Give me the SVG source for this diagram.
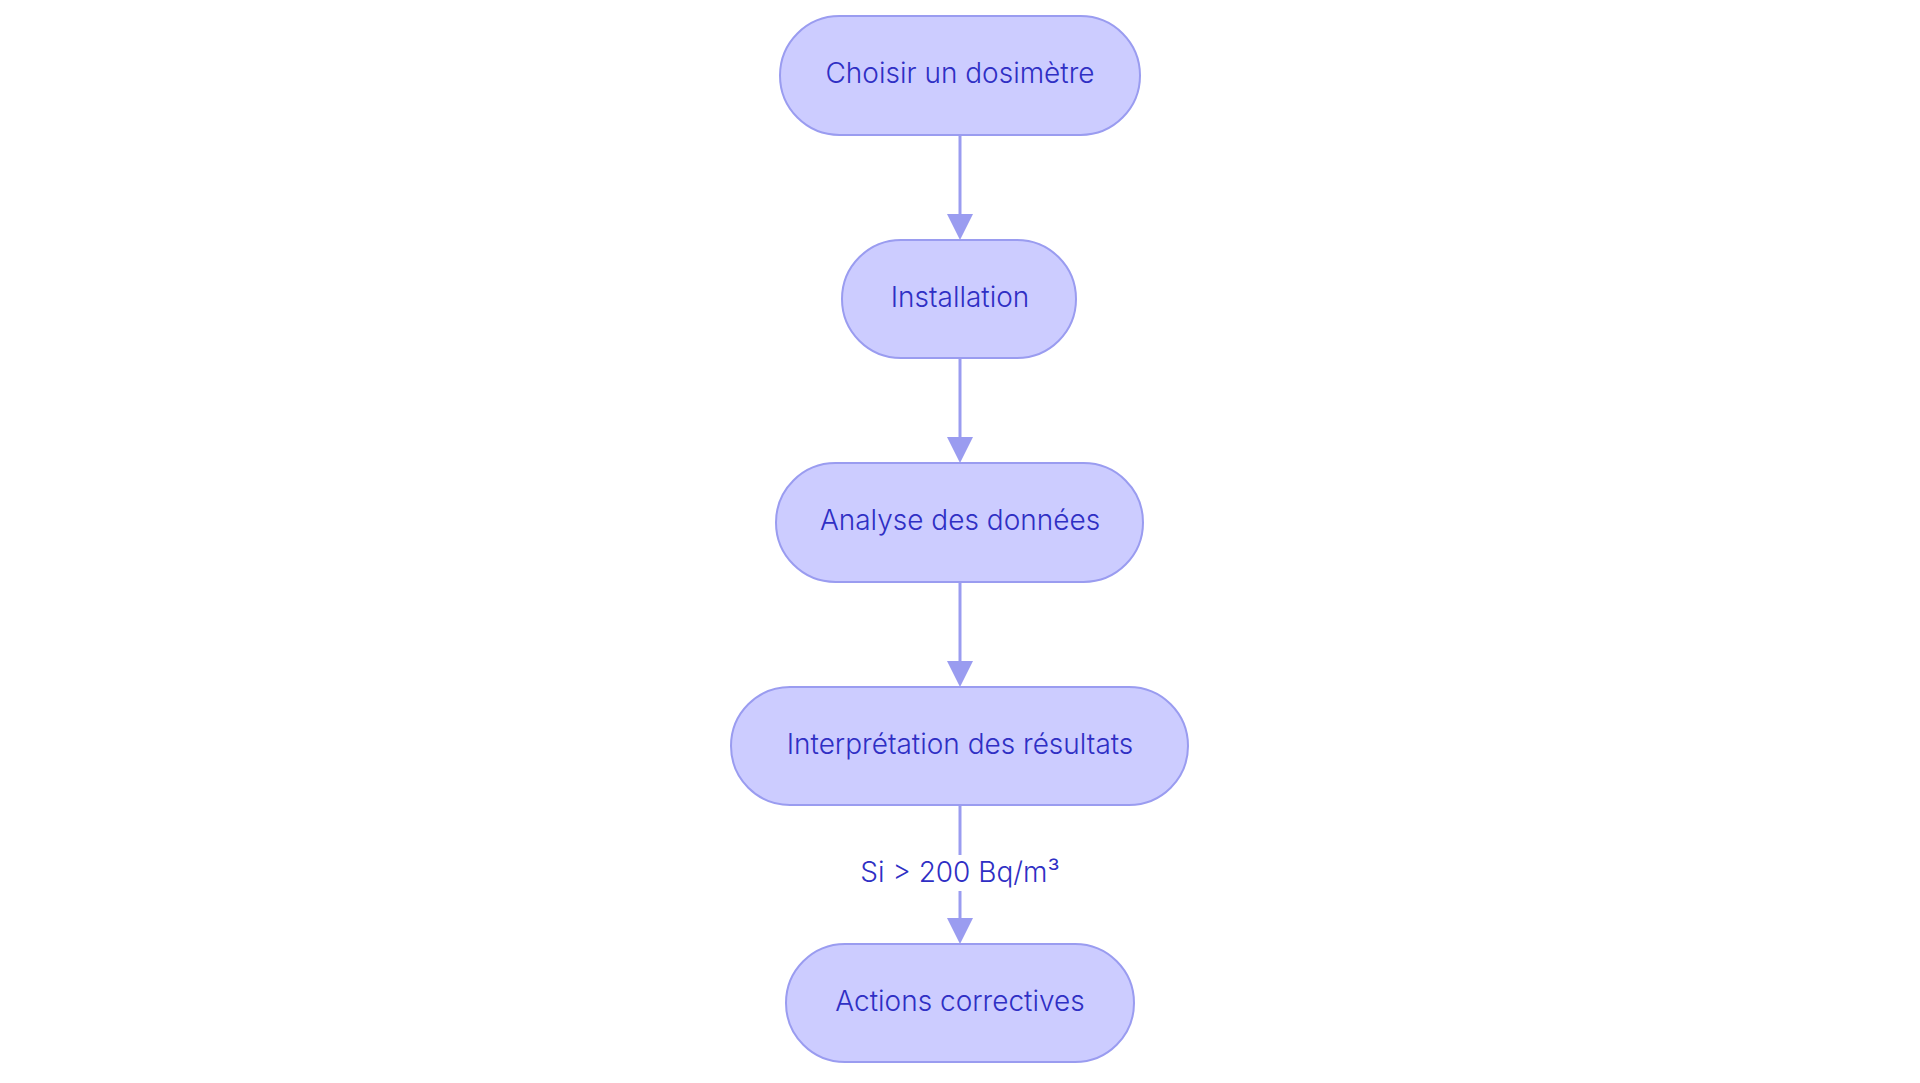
<svg xmlns="http://www.w3.org/2000/svg" width="1920" height="1083" viewBox="0 0 1920 1083">
<style>
.n{fill:#ccccff;stroke:#9a9cf0;stroke-width:2}
.t{font-family:Inter,"Liberation Sans",sans-serif;font-size:28px;font-weight:300;fill:#2f2fc4;text-anchor:middle;dominant-baseline:central}
.l{stroke:#9a9cf0;stroke-width:3;fill:none}
.h{fill:#9a9cf0}
</style>
<rect width="1920" height="1083" fill="#fff"/>
<g id="edges">
<line class="l" x1="960" y1="135" x2="960" y2="216"/><path class="h" d="M947,214L960,240L973,214z"/>
<line class="l" x1="960" y1="358" x2="960" y2="440"/><path class="h" d="M947,437L960,463L973,437z"/>
<line class="l" x1="960" y1="582" x2="960" y2="664"/><path class="h" d="M947,661L960,687L973,661z"/>
<line class="l" x1="960" y1="805" x2="960" y2="920"/><path class="h" d="M947,918L960,944L973,918z"/>
<rect x="850" y="855" width="220" height="36" fill="#fff"/>
<text class="t" x="960" y="872">Si &gt; 200 Bq/m³</text>
</g>
<g id="n1"><rect class="n" x="780" y="16" width="360" height="119" rx="59.5"/><text class="t" x="960" y="73">Choisir un dosimètre</text></g>
<g id="n2"><rect class="n" x="842" y="240" width="234" height="118" rx="59"/><text class="t" x="960" y="297">Installation</text></g>
<g id="n3"><rect class="n" x="776" y="463" width="367" height="119" rx="59.5"/><text class="t" x="960" y="520">Analyse des données</text></g>
<g id="n4"><rect class="n" x="731" y="687" width="457" height="118" rx="59"/><text class="t" x="960" y="744">Interprétation des résultats</text></g>
<g id="n5"><rect class="n" x="786" y="944" width="348" height="118" rx="59"/><text class="t" x="960" y="1001">Actions correctives</text></g>
</svg>
